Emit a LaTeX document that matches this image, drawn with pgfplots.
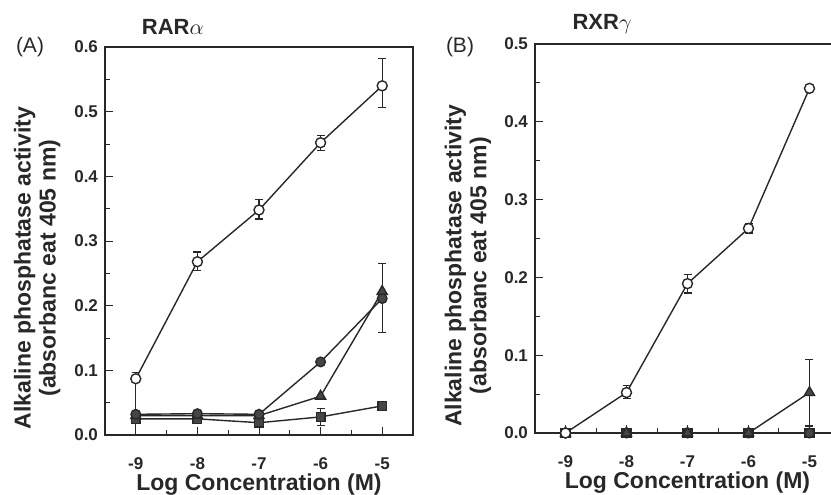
\documentclass[border=0pt]{standalone}
\usepackage{fontspec}
\setmainfont{Liberation Sans}
\usepackage{pgfplots}
\pgfplotsset{compat=1.18}
\definecolor{ink}{RGB}{40,40,40}
\definecolor{markc}{RGB}{70,70,70}

\pgfplotsset{
  panel/.style={
    scale only axis,
    xmin=-9.5,xmax=-4.5,ymin=0,
    xtick={-9,-8,-7,-6,-5},
    minor x tick num=1, minor y tick num=1,
    tick pos=left, tick align=inside,
    major tick length=4pt, minor tick length=2.5pt,
    axis line style={ink,line width=0.9pt},
    every tick/.style={ink,line width=0.5pt},
    /pgf/number format/assume math mode=true,
    /pgf/number format/fixed,/pgf/number format/fixed zerofill,/pgf/number format/precision=1,
    xticklabel={\pgfmathprintnumber[precision=0,fixed zerofill=false]{\tick}},
    ticklabel style={font=\fontsize{8.5}{9}\selectfont\bfseries,ink},
    xticklabel style={yshift=-8pt},
    xlabel={Log Concentration (M)},
    xlabel style={font=\fontsize{11.5}{13}\selectfont\bfseries,ink,yshift=5pt},
    ylabel={Alkaline phosphatase activity\\(absorbanc eat 405 nm)},
    ylabel style={font=\fontsize{11.5}{12.5}\selectfont\bfseries,ink,align=center,
      at={(axis description cs:-0.22,0.43)},anchor=center,rotate=0},
    title style={font=\fontsize{11}{12}\selectfont\bfseries,ink,
      at={(axis description cs:0.22,1)},anchor=center,yshift=4pt},
    error bars/error bar style={ink,line width=0.6pt},
    error bars/error mark options={ink,line width=0.6pt,mark size=2pt,rotate=90},
  },
  ln/.style={ink,line width=0.7pt},
  oc/.style={ln,mark=*,mark size=2.5pt,mark options={fill=white,draw=ink,line width=0.7pt}},
  fc/.style={ln,mark=*,mark size=2.4pt,mark options={fill=markc,draw=ink}},
  ft/.style={ln,mark=triangle*,mark size=2.9pt,mark options={fill=markc,draw=ink}},
  fs/.style={ln,mark=square*,mark size=2.2pt,mark options={fill=markc,draw=ink}},
}

\begin{document}
\begin{tikzpicture}
% panel A
\begin{axis}[panel,
  at={(52.5pt,-217.5pt)},anchor=south west,
  width=154pt,height=194pt,
  ymax=0.6,ytick={0,0.1,0.2,0.3,0.4,0.5,0.6},
  title={RAR$\alpha$},
]
\addplot[fs,error bars/.cd,y dir=both,y explicit] table[x=x,y=y,y error plus=ep,y error minus=em] {
x y ep em
-9 0.025 0 0
-8 0.025 0 0
-7 0.019 0 0
-6 0.028 0.013 0.013
-5 0.045 0 0
};
\addplot[ft] table {
-9 0.030
-8 0.030
-7 0.030
-6 0.060
-5 0.222
};
\addplot[fc,error bars/.cd,y dir=both,y explicit] table[x=x,y=y,y error plus=ep,y error minus=em] {
x y ep em
-9 0.032 0 0
-8 0.033 0 0
-7 0.032 0 0
-6 0.113 0 0
-5 0.211 0.054 0.053
};
\addplot[oc,error bars/.cd,y dir=both,y explicit] table[x=x,y=y,y error plus=ep,y error minus=em] {
x y ep em
-9 0.087 0.010 0.087
-8 0.268 0.015 0.014
-7 0.348 0.016 0.014
-6 0.452 0.011 0.012
-5 0.540 0.042 0.033
};
\end{axis}
\node[font=\fontsize{10.5}{12}\selectfont,ink] at (15pt,-23.5pt) {(A)};

% panel B
\begin{axis}[panel,
  at={(267.5pt,-216.5pt)},anchor=south west,
  width=152.5pt,height=194.5pt,
  ymax=0.5,ytick={0,0.1,0.2,0.3,0.4,0.5},
  title={RXR$\gamma$},
]
\addplot[fs] table {
-9 0
-8 0
-7 0
-6 0
-5 0
};
\addplot[fc] table {
-9 0
-8 0
-7 0
-6 0
-5 0
};
\addplot[ft,error bars/.cd,y dir=both,y explicit] table[x=x,y=y,y error plus=ep,y error minus=em] {
x y ep em
-9 0 0 0
-8 0 0 0
-7 0 0 0
-6 0 0 0
-5 0.052 0.042 0.043
};
\addplot[oc,error bars/.cd,y dir=both,y explicit] table[x=x,y=y,y error plus=ep,y error minus=em] {
x y ep em
-9 0 0 0
-8 0.052 0.009 0.008
-7 0.192 0.012 0.012
-6 0.263 0.006 0.006
-5 0.443 0.004 0.004
};
\end{axis}
\node[font=\fontsize{10.5}{12}\selectfont,ink] at (230pt,-23.5pt) {(B)};

\pgfresetboundingbox
\path[use as bounding box] (0,0) rectangle (415.5pt,-247pt);
\end{tikzpicture}
\end{document}
